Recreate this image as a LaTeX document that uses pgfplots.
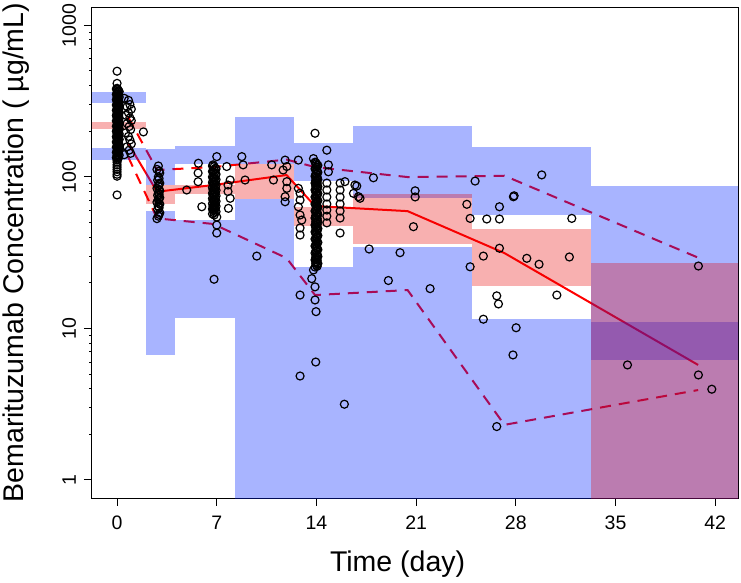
\documentclass[border=0pt]{standalone}
\usepackage{fontspec}
\setmainfont{Liberation Sans}
\usepackage{pgfplots}
\pgfplotsset{compat=1.18}
\definecolor{bandblue}{RGB}{0,34,255}
\definecolor{bandred}{RGB}{232,0,0}
\newcommand\bluerect[4]{\addplot[draw=none,fill=bandblue,fill opacity=0.34,forget plot] coordinates {(#1,#3) (#2,#3) (#2,#4) (#1,#4)} -- cycle;}
\newcommand\pinkrect[4]{\addplot[draw=none,fill=bandred,fill opacity=0.31,forget plot] coordinates {(#1,#3) (#2,#3) (#2,#4) (#1,#4)} -- cycle;}
\begin{document}
\begin{tikzpicture}
\begin{axis}[name=ax, scale only axis, width=646pt, height=490.7pt,
  xmin=-1.76, xmax=43.6, ymode=log, ymin=0.76, ymax=1315,
  axis line style={line width=1pt},
  xtick={0,7,14,21,28,35,42}, xticklabels={0,7,14,21,28,35,42},
  ytick={1,10,100,1000}, yticklabels={1,10,100,1000},
  xtick pos=bottom, ytick pos=left, tick align=outside,
  major tick length=8pt, tick style={black, line width=1pt},
  tick label style={font=\fontsize{19.5}{20}\selectfont},
  xticklabel style={anchor=base, yshift=-24pt},
  yticklabel style={rotate=90, anchor=base, yshift=8pt},
  xlabel={Time (day)}, ylabel={Bemarituzumab Concentration ( µg/mL)},
  label style={font=\fontsize{28.5}{30}\selectfont},
  xlabel style={at={(axis description cs:0.473,-0.1488)}, anchor=base},
  ylabel style={at={(axis description cs:-0.1053,0.5)}, anchor=base},
]
% observations
\addplot[only marks, mark=o, mark size=4pt, mark options={line width=1.2pt, black}] coordinates {
(0,498) (0,414) (0,384) (0.1,370) (0,358) (0.1,347) (0,336) (0.1,326) (0,316) (0.1,306) (0,297) (0.1,288) (0,279) (0.1,270) (0,262) (0.1,254) (0,246) (0.1,238) (0,231) (0.1,224) (0,217) (0.1,210) (0,204) (0.1,198) (0,192) (0.1,186) (0,180) (0.1,174) (0,168) (0.1,163) (0,158) (0.1,153) (0,148) (0.1,143) (0,138) (0.1,134) (0,129) (0,125) (0,120) (0,116) (0,112) (0,108) (0,104) (0,101) (0,76)
(0.05,377) (0.05,364) (0.05,352) (0.05,341) (0.05,331) (0.05,321) (0.05,311) (0.05,301) (0.05,292) (0.05,283) (0.05,274) (0.05,266) (0.05,258) (0.05,250) (0.05,242) (0.05,234) (0.05,227) (0.05,220) (0.05,213) (0.05,207) (0.05,201) (0.05,195) (0.05,189) (0.05,183) (0.05,177) (0.05,171) (0.05,165) (0.05,160) (0.05,155) (0.05,150) (0.05,145) (0.05,140) (0.05,136) (0.05,131)
(-0.05,380) (0.15,365) (-0.05,350) (0.15,336) (-0.05,323) (0.15,310) (-0.05,298) (0.15,286) (-0.05,275) (0.15,264) (-0.05,254) (0.15,244) (-0.05,234) (0.15,225) (-0.05,216) (0.15,208) (-0.05,200) (0.15,192) (-0.05,184) (0.15,177) (-0.05,170) (0.15,163) (-0.05,157) (0.15,151) (-0.05,145) (0.15,139) (-0.05,134)
(0.5,330) (0.8,320) (0.9,300) (0.7,290) (1.0,280) (0.8,265) (0.6,255) (0.9,245) (1.0,235) (0.7,225) (0.85,215) (0.95,205) (0.6,195) (0.8,185) (0.9,175) (1.0,165) (0.7,158) (0.85,150) (0.95,143) (0.5,140) (1.85,198)
(2.9,118) (2.8,112) (3.0,106) (2.9,100) (2.85,95) (3.0,91) (2.9,87) (2.8,84) (3.0,81) (2.9,78) (2.85,75.5) (3.0,73) (2.9,70.5) (2.8,68) (3.0,66) (2.9,64) (2.85,61) (3.0,58) (2.9,55) (2.8,53)
(2.95,109) (2.95,97.5) (2.95,89) (2.95,82.5) (2.95,76.7) (2.95,71.7) (2.95,67) (2.95,62.5) (2.95,56.5)
(4.89,81.9) (5.71,123) (5.69,106) (5.69,92.9) (5.95,63.5) (7.0,136)
(6.74,120) (6.9,114) (6.74,108) (6.9,103) (6.74,98) (6.9,94) (6.74,90) (6.9,86) (6.74,82) (6.9,79) (6.74,76) (6.9,73) (6.74,70) (6.9,67) (6.74,64) (6.9,62) (6.74,60)
(6.82,117) (6.82,111) (6.82,105) (6.82,100) (6.82,96) (6.82,92) (6.82,88) (6.82,84) (6.82,80) (6.82,77) (6.82,74) (6.82,71) (6.82,68) (6.82,65) (6.82,63) (6.82,61) (6.82,58) (6.82,56)
(6.7,118) (6.95,113) (6.7,108.5) (6.95,104) (6.7,100) (6.95,96) (6.7,92) (6.95,88.5) (6.7,85) (6.95,81.5) (6.7,78) (6.95,75) (6.7,72) (6.95,69) (6.7,66.5) (6.95,64) (6.7,61.5) (6.95,59) (6.7,57)
(7.0,54.3) (7.0,48.1) (7.0,42.6) (6.81,21.1) (7.70,117) (7.79,88.3) (7.94,95.3) (7.79,80) (7.94,72.2) (7.82,62)
(8.76,136) (8.85,120) (8.99,95.3) (9.81,30.0) (10.86,120) (10.98,95.3)
(11.8,129) (11.92,117) (11.66,111) (11.92,93) (11.92,84) (11.8,74) (11.8,68.5)
(12.73,129) (12.73,84) (12.85,78) (12.85,70.3) (12.73,63.5) (12.85,56) (12.97,51.9) (12.85,46) (12.85,41.3) (12.85,16.6) (12.85,4.85)
(13.9,125) (14.1,119) (13.9,113) (14.1,107) (13.9,101) (14.1,96) (13.9,91) (14.1,86.3) (13.9,81.9) (14.1,77.6) (13.9,73.6) (14.1,69.8) (13.9,66.2) (14.1,62.7) (13.9,59.5) (14.1,56.4) (13.9,53.5) (14.1,50.7) (13.9,48.1) (14.1,45.6) (13.9,43.3) (14.1,41.0) (13.9,38.9) (14.1,36.9) (13.9,35.0) (14.1,33.1) (13.9,31.4) (14.1,29.8) (13.9,28.3) (14.1,26.8) (13.9,25.4)
(14.0,122) (14.0,116) (14.0,110) (14.0,104) (14.0,98.5) (14.0,93.5) (14.0,88.6) (14.0,84) (14.0,79.7) (14.0,75.6) (14.0,71.7) (14.0,68) (14.0,64.4) (14.0,61.1) (14.0,58) (14.0,54.9) (14.0,52.1) (14.0,49.4) (14.0,46.8) (14.0,44.4) (14.0,42.1) (14.0,39.9) (14.0,37.9) (14.0,35.9) (14.0,34.1) (14.0,32.3) (14.0,30.6) (14.0,29.0) (14.0,27.5) (14.0,26.1)
(13.95,124) (14.05,118.5) (13.95,113.5) (14.05,108.5) (13.95,104) (14.05,99.5) (13.95,95) (14.05,91) (13.95,87) (14.05,83) (13.95,79.5) (14.05,76) (13.95,72.5) (14.05,69.5) (13.95,66.5) (14.05,63.5) (13.95,60.5) (14.05,58) (13.95,55.5) (14.05,53) (13.95,50.5) (14.05,48.5) (13.95,46.2) (14.05,44.2) (13.95,42.3) (14.05,40.4) (13.95,38.6) (14.05,36.9) (13.95,35.3) (14.05,33.7) (13.95,32.2) (14.05,30.8) (13.95,29.5) (14.05,28.2) (13.95,26.9) (14.05,25.7)
(13.9,194) (13.79,132) (14.73,150) (14.84,120) (14.84,108) (13.79,24.3) (13.67,21.3) (13.9,18.8) (13.9,15.4) (13.97,12.9) (13.95,6.0) (15.96,3.16)
(14.73,91) (14.73,81.9) (14.73,73.6) (14.73,66.2) (14.73,60.4) (14.73,55) (14.73,49.7)
(15.66,91) (15.66,81.9) (15.66,73.6) (15.66,66.2) (15.66,59.5) (15.66,53.5) (15.66,42.6)
(16.0,93) (16.7,88.3) (16.95,74)
(16.83,87) (16.6,77.8) (17.06,72.2) (18.0,98.6) (17.7,33.4) (19.87,31.6) (19.05,20.7) (21.98,18.3)
(20.93,80.9) (20.93,73.7) (20.81,46.9) (25.14,93.8) (24.56,65.9) (24.79,53.2) (24.79,25.5)
(25.96,52.7) (26.85,52.7) (26.85,63.5) (27.83,73.9) (27.88,75) (29.82,103) (31.93,53.2)
(26.85,33.8) (25.72,30.0) (28.77,29.0) (29.63,26.5) (31.76,29.6) (30.88,16.6) (26.66,16.4) (26.78,14.5)
(25.72,11.5) (28.02,10.1) (27.8,6.68) (26.66,2.25) (35.84,5.74) (40.82,25.8) (40.82,4.93) (41.76,3.97)
};
% observed percentiles
\addplot[red, line width=2pt, no marks] coordinates {(0.77,167) (2.81,79.8) (6.74,88.3) (11.9,102.8) (13.9,64.2) (20.4,59.4) (27.2,31.4) (40.8,5.74)};
\addplot[red, line width=2pt, no marks, dash pattern=on 11pt off 8pt] coordinates {(0.77,249) (2.81,111) (6.74,116) (11.9,130) (13.9,116) (20.4,99.7) (27.2,101.7) (40.8,29.3)};
\addplot[red, line width=2pt, no marks, dash pattern=on 11pt off 8pt] coordinates {(0.77,136) (2.81,53.2) (6.74,48.9) (11.9,29.1) (13.9,16.6) (20.4,17.9) (27.2,2.31) (40.8,3.92)};
% simulated 95% CI of 5th and 95th percentiles
\bluerect{-2}{2.0}{308}{364}
\bluerect{-2}{2.0}{129}{154}
\bluerect{2.0}{4.07}{88.3}{153.7}
\bluerect{2.0}{4.07}{6.68}{59.5}
\bluerect{4.07}{8.29}{122.4}{159.6}
\bluerect{4.07}{8.29}{11.7}{51.9}
\bluerect{8.29}{12.39}{121.4}{247}
\bluerect{8.29}{12.39}{0.5}{71.1}
\bluerect{12.39}{16.55}{93.8}{168.3}
\bluerect{12.39}{16.55}{0.5}{25.5}
\bluerect{16.55}{24.91}{72.1}{217.4}
\bluerect{16.55}{24.91}{0.5}{34.6}
\bluerect{24.91}{33.29}{56.0}{156.6}
\bluerect{24.91}{33.29}{0.5}{11.5}
\bluerect{33.29}{45}{6.19}{86.9}
\bluerect{33.29}{45}{0.5}{11.1}
% simulated 95% CI of median
\pinkrect{-2}{2.0}{207}{231}
\pinkrect{2.0}{4.07}{66.2}{88.3}
\pinkrect{4.07}{8.29}{77.0}{89.0}
\pinkrect{8.29}{12.39}{71.1}{121.4}
\pinkrect{12.39}{16.55}{47.3}{63.5}
\pinkrect{16.55}{24.91}{36.0}{76.7}
\pinkrect{24.91}{33.29}{19.0}{45.1}
\pinkrect{33.29}{45}{0.5}{26.9}
\end{axis}
\pgfresetboundingbox
\path ([xshift=-92pt,yshift=-84pt]ax.south west) rectangle ([xshift=3pt,yshift=7.3pt]ax.north east);
\end{tikzpicture}
\end{document}
